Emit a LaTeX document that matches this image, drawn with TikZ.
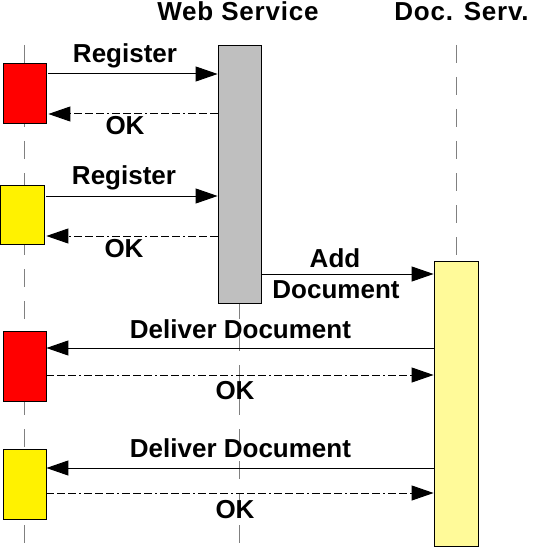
\documentclass[tikz,border=0pt]{standalone}
\usepackage{fontspec}
\setmainfont{Liberation Sans}
\newfontfamily\headfont[LetterSpace=3]{Liberation Sans}
\usetikzlibrary{arrows.meta}

\begin{document}
\begin{tikzpicture}[
  x=1pt, y=-1pt,
  act/.style={draw, line width=0.8pt, minimum width=43pt, inner sep=0pt},
  life/.style={draw=black!50, line width=1pt, dash pattern=on 18pt off 14pt},
  head/.style={font=\headfont\fontsize{26}{28}\selectfont\bfseries, anchor=base},
  lab/.style={font=\fontsize{26}{28}\selectfont\bfseries, anchor=base},
  call/.style={-{Triangle[length=22pt, width=15pt]}, line width=1pt},
  reply/.style={call, dash pattern=on 8pt off 3pt on 8pt off 3pt on 8pt off 3pt on 2pt off 3pt}
]
  \useasboundingbox (0,0) rectangle (532,548);

  % lifelines
  \coordinate (cl) at (24,45);
  \coordinate (wl) at (239.5,45);
  \coordinate (dl) at (456,45);
  \draw[life] (cl) -- (24,548);
  \draw[life] (wl) -- (239.5,548);
  \draw[life] (dl) -- (456,548);

  % headings
  \node[head] (wshead) at (238,20.5) {Web Service};
  \node[head] (dshead) at (461.5,20.5) {Doc. Serv.};

  % activation boxes
  \node[act, fill=black!25, minimum height=258pt] (ws) at (239.5,174) {};
  \node[act, fill=yellow!40, minimum width=44pt, minimum height=285pt] (ds) at (456,403.5) {};
  \node[act, fill=red, minimum height=60pt] (red1) at (24.5,93) {};
  \node[act, fill=yellow, minimum width=44pt, minimum height=59pt] (yel1) at (22,214.5) {};
  \node[act, fill=red, minimum height=70pt] (red2) at (24.5,366) {};
  \node[act, fill=yellow, minimum height=70pt] (yel2) at (24.5,484) {};

  % message rows
  \coordinate (m1) at (0,74);
  \coordinate (m2) at (0,114);
  \coordinate (m3) at (0,196);
  \coordinate (m4) at (0,236);
  \coordinate (m5) at (0,274);
  \coordinate (m6) at (0,348);
  \coordinate (m7) at (0,375);
  \coordinate (m8) at (0,468);
  \coordinate (m9) at (0,493);

  \draw[call, shorten <=2pt] (red1.east |- m1) -- (ws.west |- m1);
  \draw[reply, shorten >=2pt] (ws.west |- m2) -- (red1.east |- m2);
  \draw[call, shorten <=2pt] (yel1.east |- m3) -- (ws.west |- m3);
  \draw[reply, shorten >=2pt] (ws.west |- m4) -- (yel1.east |- m4);
  \draw[call] (ws.east |- m5) -- (ds.west |- m5);
  \draw[call] (ds.west |- m6) -- (red2.east |- m6);
  \draw[reply] (red2.east |- m7) -- (ds.west |- m7);
  \draw[call] (ds.west |- m8) -- (yel2.east |- m8);
  \draw[reply] (yel2.east |- m9) -- (ds.west |- m9);

  % labels
  \node[lab] (reg1) at (125,63) {Register};
  \node[lab] (ok1) at (125,135) {OK};
  \node[lab] (reg2) at (124,184) {Register};
  \node[lab] (ok2) at (124,257) {OK};
  \node[lab] (add) at (335,267) {Add};
  \node[lab] (doc) at (336,298) {Document};
  \node[lab] (del1) at (240.5,338) {Deliver Document};
  \node[lab] (ok3) at (235,399) {OK};
  \node[lab] (del2) at (240.5,457) {Deliver Document};
  \node[lab] (ok4) at (235,518) {OK};
\end{tikzpicture}
\end{document}
